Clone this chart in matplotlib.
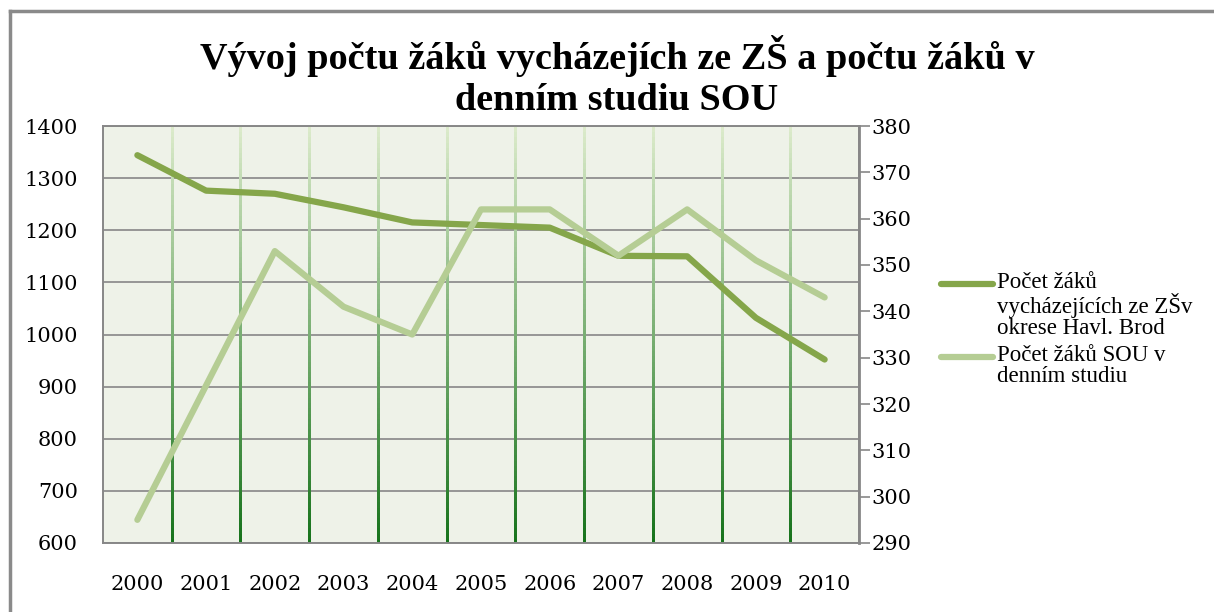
import matplotlib
matplotlib.use('Agg')
import matplotlib.pyplot as plt
import numpy as np
from matplotlib.collections import LineCollection
from matplotlib.lines import Line2D
from matplotlib.colors import to_rgb

years = ['2000', '2001', '2002', '2003', '2004', '2005', '2006', '2007', '2008', '2009', '2010']
zs_students = [1344, 1276, 1270, 1244, 1215, 1210, 1205, 1151, 1150, 1032, 952]
sou_students = [295, 324, 353, 341, 335, 362, 362, 352, 362, 351, 343]
label_zs = 'Počet žáků\nvycházejících ze ZŠv\nokrese Havl. Brod'
label_sou = 'Počet žáků SOU v\ndenním studiu'
title_lines = ['Vývoj počtu žáků vycházejích ze ZŠ a počtu žáků v', 'denním studiu SOU']

DARK = '#85a64a'
LIGHT = '#b5cd94'
GRID = '#878787'
TICKFONT = 'DejaVu Serif'

fig = plt.figure(figsize=(12.14, 6.12), dpi=100)
fig.patch.set_facecolor('white')

ax = fig.add_axes([103/1214, 1-543/612, (859-103)/1214, (543-126)/612])
ax.set_facecolor('#eef2e8')
x = np.arange(len(years))
ax.set_xlim(-0.5, len(years)-0.5)
ax.set_ylim(600, 1400)
ax.set_yticks(range(600, 1401, 100))
ax.set_xticks(x)
ax.set_xticklabels(years)
ax.grid(axis='y', color=GRID, lw=1.2)
ax.set_axisbelow(True)

# gradient vertical gridlines at category boundaries
n = 80
c_top = np.array(to_rgb('#dcebcb'))
c_bot = np.array(to_rgb('#15721a'))
segs, cols = [], []
for b in np.arange(0.5, len(years)-0.5, 1):
    for k in range(n):
        y0 = 600 + 800*k/n
        y1 = 600 + 800*(k+1.6)/n
        t = (k+0.5)/n
        segs.append([(b, y0), (b, min(y1, 1400))])
        cols.append(c_bot*(1-t) + c_top*t)
lc = LineCollection(segs, colors=cols, linewidths=2.0, zorder=0.8, antialiaseds=False)
lc.set_capstyle('butt')
ax.add_collection(lc)

ax.plot(x, zs_students, color=DARK, lw=4.5, solid_capstyle='round', solid_joinstyle='round', zorder=3)

ax2 = ax.twinx()
ax2.set_ylim(290, 380)
ax2.set_yticks(range(290, 381, 10))
ax2.plot(x, sou_students, color=LIGHT, lw=4.5, solid_capstyle='round', solid_joinstyle='round', zorder=3)

for a in (ax, ax2):
    for s in a.spines.values():
        s.set_color(GRID)
        s.set_linewidth(1.2)
ax2.spines['right'].set_linewidth(2.0)

ax.tick_params(axis='y', length=0, pad=18, labelsize=15)
ax.tick_params(axis='x', length=0, pad=23, labelsize=15)
ax2.tick_params(axis='y', length=8, width=1.2, color=GRID, pad=1, labelsize=15)
for lab in ax.get_yticklabels() + ax.get_xticklabels() + ax2.get_yticklabels():
    lab.set_fontfamily(TICKFONT)

fig.text(617/1214, 1-56/612, title_lines[0], ha='center', va='center',
         fontsize=27.5, fontweight='bold', family='Liberation Serif')
fig.text(617/1214, 1-101/612, title_lines[1], ha='center', va='center',
         fontsize=27.5, fontweight='bold', family='Liberation Serif')

# legend (handle aligned with the first line of each label)
W, H = 1214, 612
for y_line, color, label in [(284, DARK, label_zs), (357, LIGHT, label_sou)]:
    fig.add_artist(Line2D([941/W, 993/W], [1-y_line/H, 1-y_line/H], color=color, lw=4.5,
                          solid_capstyle='round'))
    fig.text(997/W, 1-(y_line-12)/H, label, ha='left', va='top', fontsize=16.5,
             family='Liberation Serif', linespacing=1.0)

# outer chart frame
fig.add_artist(Line2D([10/W, 10/W], [0, 1-11/H], color='#8a8a8a', lw=2.5))
fig.add_artist(Line2D([10/W, 1], [1-11/H, 1-11/H], color='#8a8a8a', lw=2.5))

fig.savefig('out.png', dpi=100)
